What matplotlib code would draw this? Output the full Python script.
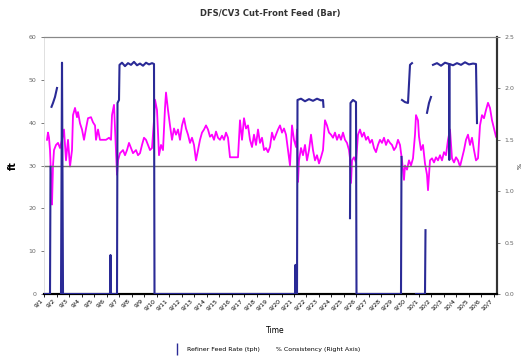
import numpy as np
import pandas as pd
import matplotlib
matplotlib.use("Agg")
import matplotlib.pyplot as plt
from matplotlib.lines import Line2D

nan = np.nan

# sample index (about 12.5 samples per day) and values
feed_idx = [0, 6, 6.5, nan,
            7.5, 9, 11, 13, nan,
            17, 18, 19, 66, 66.5, 67, 73, 73.5, 75, 75.5,
            78, 81, 84, 87, 90, 93, 96, 99, 102, 105, 108, 110, 110.5, 251,
            251.5, 252, 253, 253.5, 257, 261, 265, 269, 273, 277, 279, 279.5, nan,
            306, 306.5, 309, 312, 312.5, 357, 357.5, nan,
            358, 361, 364, 366, 368, nan,
            372, 381, 381.5, nan,
            383, 385, 387, nan,
            389, 393, 397, 401, 405, 405.3, 405.6, 409, 413, 417, 421, 425,
            429, 432, 433, nan]
feed_val = [0, 0, 29.7, nan,
            43.7, 44.6, 46.0, 48.1, nan,
            0, 54.0, 0, 0, 9.1, 0, 0, 44.6, 45.3, 53.5,
            54.0, 53.2, 53.9, 53.5, 54.2, 53.4, 53.8, 53.3, 54.0, 53.6, 53.9, 53.7, 0, 0,
            6.8, 0, 0, 45.3, 45.6, 45.0, 45.5, 45.1, 45.6, 45.2, 45.3, 43.7, nan,
            17.7, 44.6, 45.3, 44.8, 0, 0, 32.0, nan,
            45.3, 44.8, 44.6, 53.5, 53.9, nan,
            0, 0, 14.9, nan,
            42.3, 44.6, 46.0, nan,
            53.5, 53.9, 53.3, 54.0, 53.7, 31.3, 53.7, 53.4, 53.9, 53.5, 54.1, 53.6,
            53.8, 53.7, 39.9, nan]

cons_idx = [3, 4, 5, 6, 7, 8, 9, 10, 12, 14, 16, 18, 20, 22, 24, 26, 28, 29, 31, 33,
            34, 36, 38, 40, 42, 44, 47, 49, 51, 52, 54, 56, 59, 62, 65, 67, 68, 70, 72, 73,
            74, 76, 79, 81, 83, 85, 87, 89, 92, 94, 96, 98, 100, 102, 104, 106, 108, 110, 111, 113,
            115, 117, 119, 121, 122, 124, 126, 128, 130, 132, 134, 136, 138, 140, 142, 144, 146, 148, 150, 152,
            154, 156, 158, 160, 162, 164, 166, 168, 170, 172, 174, 176, 178, 180, 182, 184, 186, 190, 194, 196,
            198, 200, 202, 204, 206, 208, 210, 212, 214, 216, 218, 220, 222, 224, 226, 228, 230, 232, 234, 236,
            238, 240, 242, 244, 246, 248, 250, 252, 253, 254, 255, 257, 259, 261, 263, 265, 267, 269, 271, 273,
            275, 277, 279, 281, 283, 285, 287, 289, 291, 293, 295, 297, 299, 301, 303, 305, 306, 307, 308, 310,
            312, 314, 316, 318, 320, 322, 324, 326, 328, 330, 332, 334, 336, 338, 340, 342, 344, 346, 348, 350,
            352, 354, 356, 358, 360, 361, 363, 365, 367, 369, 371, 372, 374, 375, 377, 379, 381, 383, 384, 386,
            388, 390, 392, 394, 396, 398, 400, 402, 404, 406, 408, 410, 412, 414, 416, 418, 420, 422, 424, 426,
            428, 430, 432, 434, 436, 438, 440, 442, 444, 446, 448, 450, 452]
cons_val = [1.50, 1.57, 1.52, 1.40, 1.16, 0.87, 1.25, 1.40, 1.45, 1.47, 1.42, 1.50, 1.60, 1.30, 1.50, 1.24, 1.40, 1.74, 1.81, 1.72,
            1.77, 1.66, 1.60, 1.50, 1.61, 1.71, 1.72, 1.67, 1.64, 1.50, 1.60, 1.50, 1.50, 1.50, 1.52, 1.50, 1.74, 1.84, 1.40, 1.16,
            1.30, 1.37, 1.40, 1.35, 1.40, 1.47, 1.42, 1.37, 1.40, 1.35, 1.37, 1.45, 1.52, 1.50, 1.45, 1.40, 1.42, 1.69, 1.89, 1.79,
            1.35, 1.45, 1.40, 1.81, 1.96, 1.79, 1.64, 1.50, 1.61, 1.55, 1.60, 1.50, 1.64, 1.71, 1.61, 1.55, 1.47, 1.52, 1.45, 1.30,
            1.40, 1.50, 1.57, 1.60, 1.64, 1.60, 1.53, 1.55, 1.50, 1.58, 1.52, 1.50, 1.54, 1.50, 1.57, 1.52, 1.33, 1.33, 1.33, 1.69,
            1.50, 1.71, 1.61, 1.64, 1.50, 1.43, 1.55, 1.45, 1.60, 1.47, 1.52, 1.40, 1.42, 1.38, 1.43, 1.57, 1.50, 1.55, 1.60, 1.64,
            1.57, 1.61, 1.55, 1.40, 1.25, 1.64, 1.50, 1.43, 1.60, 1.09, 1.30, 1.42, 1.35, 1.45, 1.30, 1.40, 1.55, 1.40, 1.30, 1.35,
            1.27, 1.33, 1.40, 1.69, 1.64, 1.57, 1.55, 1.52, 1.57, 1.50, 1.55, 1.50, 1.57, 1.50, 1.47, 1.40, 1.32, 1.08, 1.30, 1.33,
            1.28, 1.55, 1.60, 1.53, 1.57, 1.50, 1.53, 1.47, 1.50, 1.42, 1.38, 1.45, 1.50, 1.47, 1.52, 1.45, 1.50, 1.47, 1.45, 1.40,
            1.43, 1.50, 1.45, 1.30, 1.11, 1.25, 1.21, 1.30, 1.25, 1.32, 1.55, 1.74, 1.69, 1.53, 1.40, 1.45, 1.27, 1.16, 1.01, 1.30,
            1.32, 1.28, 1.33, 1.30, 1.35, 1.30, 1.38, 1.35, 1.50, 1.60, 1.32, 1.28, 1.33, 1.30, 1.24, 1.32, 1.40, 1.50, 1.55, 1.45,
            1.52, 1.40, 1.30, 1.32, 1.64, 1.74, 1.71, 1.79, 1.86, 1.81, 1.69, 1.61, 1.53]

day_labels = [f"{d.month}/{d.day}" for d in pd.date_range("2003-09-01", periods=37)]
samples_per_day = 12.5
left_ticks = [0, 10, 20, 30, 40, 50, 60]
right_ticks = [0, 0.5, 1.0, 1.5, 2.0, 2.5]
target_level = 30

fig = plt.figure(figsize=(5.22, 3.58), dpi=100)
ax = fig.add_axes([0.0843, 0.1788, 0.8678, 0.7178])
ax2 = ax.twinx()

ax.plot(feed_idx, feed_val, color="#2a2a96", lw=1.5, zorder=3)
ax.axhline(target_level, color="#707070", lw=1.0, zorder=1)
ax2.plot(cons_idx, cons_val, color="#ff00ff", lw=1.3, zorder=2)
ax.set_zorder(ax2.get_zorder() + 1)
ax.patch.set_visible(False)

ax.set_xlim(0, 453)
ax.set_ylim(0, 60)
ax2.set_ylim(0, 2.5)
ax.set_yticks(left_ticks)
ax2.set_yticks(right_ticks)
ax.tick_params(axis="y", labelsize=4.5, length=2, width=0.6, colors="#666666")
ax2.tick_params(axis="y", labelsize=4.5, length=2, width=0.6, colors="#666666")

tick_pos = np.arange(len(day_labels)) * samples_per_day
ax.set_xticks(tick_pos)
ax.set_xticklabels(day_labels, rotation=45, ha="right", fontsize=4.5)
ax.tick_params(axis="x", length=2, width=0.6, pad=1)

for a in (ax, ax2):
    a.spines["top"].set_color("#888888")
    a.spines["top"].set_linewidth(0.8)
    a.spines["left"].set_color("#dddddd")
    a.spines["left"].set_linewidth(0.5)
    a.spines["bottom"].set_linewidth(1.5)
    a.spines["right"].set_linewidth(1.5)
    a.spines["right"].set_color("#333333")

ax.set_ylabel("ft", fontsize=7, fontweight="bold", labelpad=8)
ax2.set_ylabel("%", fontsize=4.5, labelpad=2)

fig.text(0.517, 0.963, "DFS/CV3 Cut-Front Feed (Bar)", ha="center", va="center",
         fontsize=6, fontweight="bold", color="#333333")
fig.text(0.527, 0.078, "Time", ha="center", va="center", fontsize=5.5)

handle = Line2D([], [], color="#2a2a96", marker="|", markersize=8, lw=0)
fig.legend([handle], ["Refiner Feed Rate (tph)        % Consistency (Right Axis)"],
           loc="center", bbox_to_anchor=(0.51, 0.025), frameon=False,
           fontsize=4.5, handlelength=1.5)

fig.savefig("out.png", dpi=100)
